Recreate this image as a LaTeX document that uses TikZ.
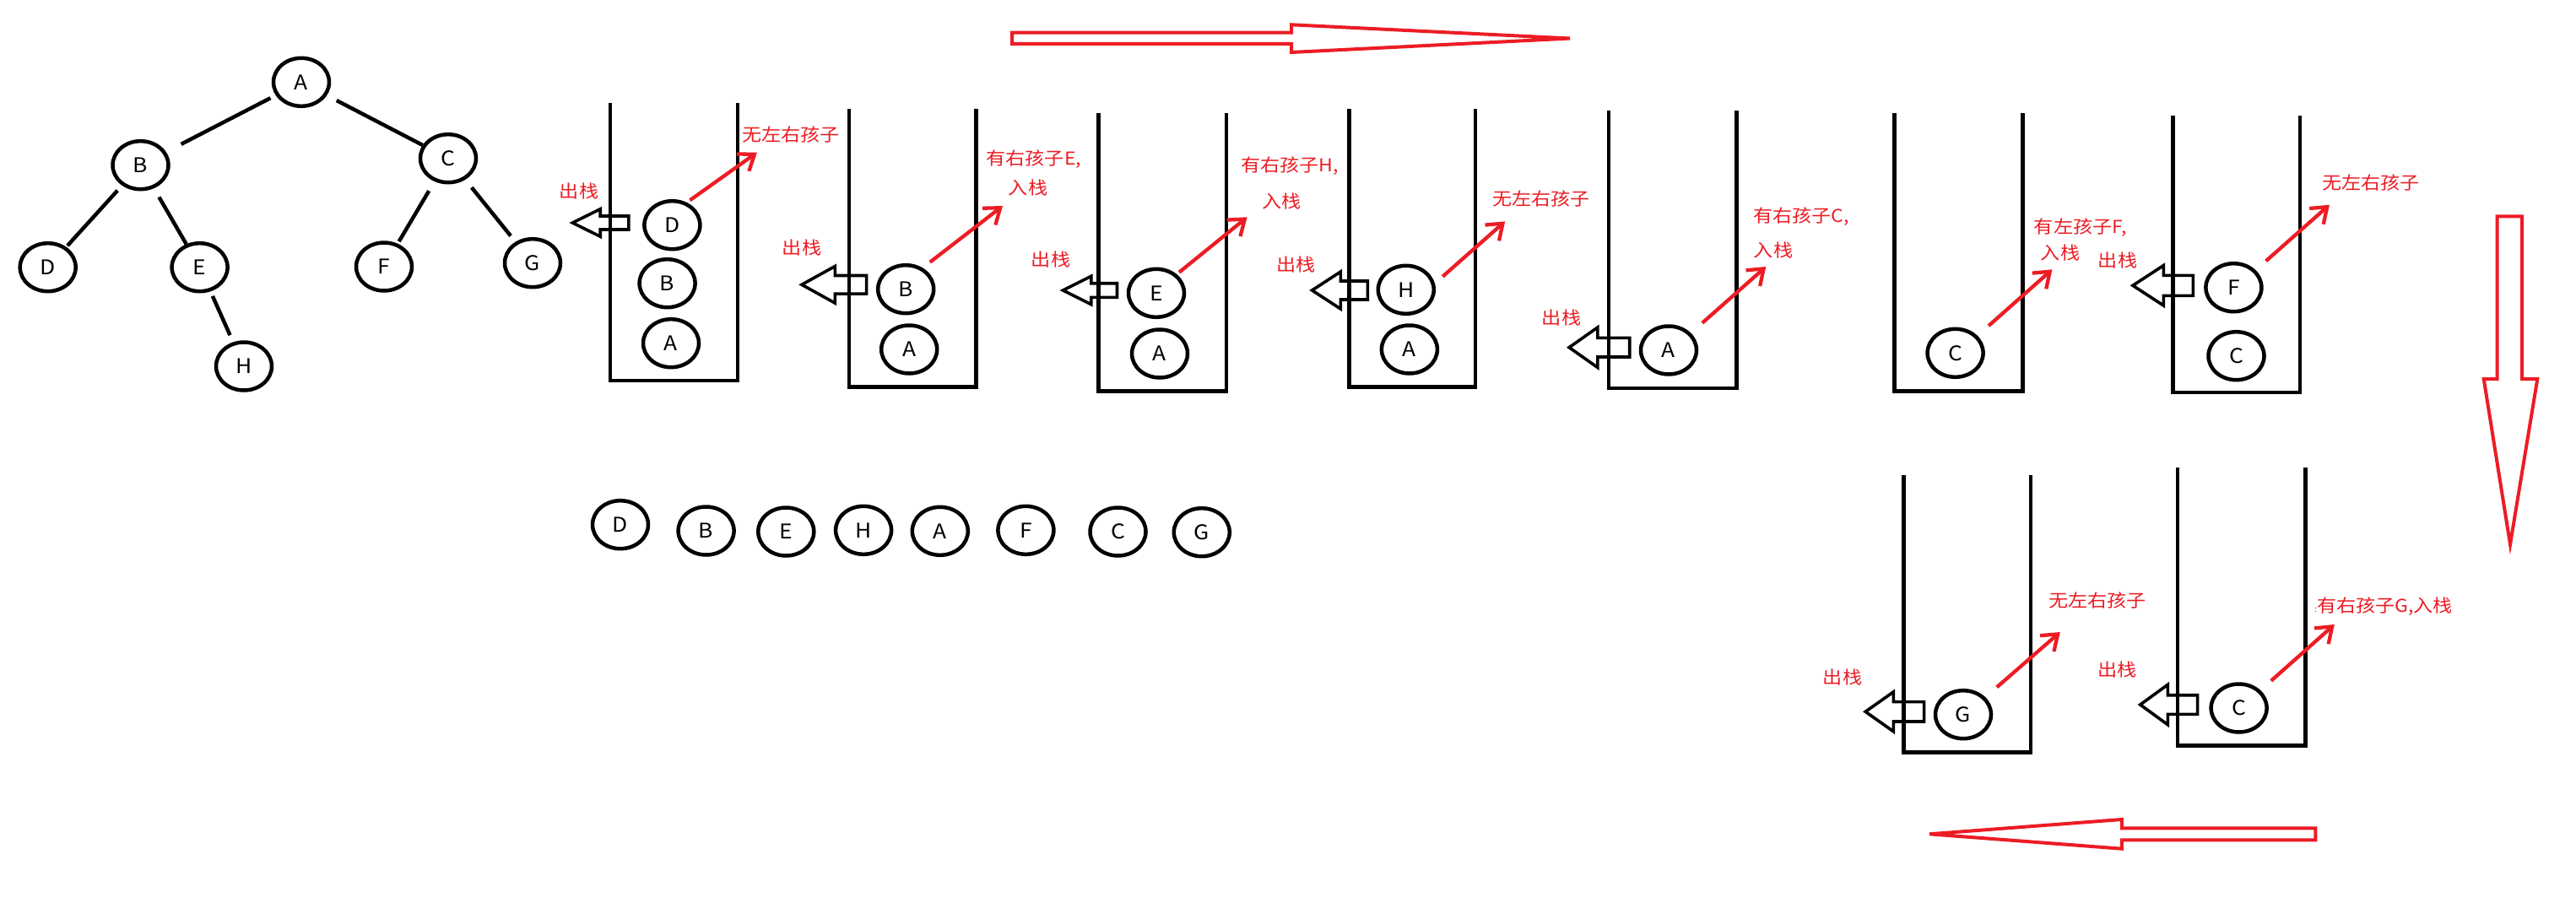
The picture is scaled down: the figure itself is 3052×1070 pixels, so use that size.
\documentclass[tikz,border=0pt]{standalone}
\usepackage{fontspec}
\setmainfont{Noto Sans CJK SC}[FakeStretch=1.1]
\usetikzlibrary{arrows.meta,shapes.geometric}
\definecolor{pred}{RGB}{237,28,36}
\newcommand\stackbox[4]{\draw[wall] (#1,#3) -- (#1,#4) -- (#2,#4) -- (#2,#3);}
\newcommand\hollowarr[6]{\draw[hollow] (#1+3,#2) -- (#3,#2-#4+2) -- (#3,#2-#6+2) -- (#5-2,#2-#6+2) -- (#5-2,#2+#6-2) -- (#3,#2+#6-2) -- (#3,#2+#4-2) -- cycle;}
\begin{document}
\begin{tikzpicture}[x=1pt,y=-1pt,
  ball/.style={draw, ellipse, line width=4.5pt, minimum width=66pt, minimum height=57pt, inner sep=0pt, font=\fontsize{24pt}{24pt}\selectfont},
  lbl/.style={text=pred, inner sep=0pt, font=\fontsize{21pt}{21pt}\selectfont},
  edge/.style={line width=4.5pt},
  wall/.style={line width=4.6pt, line join=miter},
  hollow/.style={line width=3.6pt, line join=miter},
  redarr/.style={draw=pred, line width=4.3pt, -{Straight Barb[length=17pt,width=25pt]}},
  bigred/.style={draw=pred, line width=4pt, line join=miter}]
\fill[white] (0,0) rectangle (3052,1070);
\useasboundingbox (0,0) rectangle (3052,1070);

% tree
\node[ball] (tA) at (357,97.3) {A};
\node[ball] (tB) at (166.5,195.7) {B};
\node[ball] (tC) at (531,187.7) {C};
\node[ball] (tD) at (56.7,316.7) {D};
\node[ball] (tE) at (236.6,316.7) {E};
\node[ball] (tF) at (455,316) {F};
\node[ball] (tG) at (631,311.7) {G};
\node[ball] (tH) at (289,434) {H};
\draw[edge, shorten <=7pt, shorten >=20pt] (tA) -- (tB);
\draw[edge, shorten <=13pt] (tA) -- (tC);
\draw[edge, shorten <=8pt, shorten >=2pt] (tB) -- (tD);
\draw[edge, shorten <=12pt] (tB) -- (tE);
\draw[edge, shorten <=13pt, shorten >=3pt] (tC) -- (tF);
\draw[edge, shorten <=12pt, shorten >=9pt] (tC) -- (tG);
\draw[edge, shorten <=6pt, shorten >=9pt] (tE) -- (tH);

% stacks
\stackbox{722.8}{874.1}{122.3}{451}
\stackbox{1005.8}{1156.7}{129.3}{458.3}
\stackbox{1301.5}{1453}{134.3}{463.3}
\stackbox{1598.5}{1748}{129.3}{458.3}
\stackbox{1906.1}{2057.7}{130.7}{460}
\stackbox{2244.5}{2396.3}{134.3}{463.3}
\stackbox{2574.3}{2724.8}{136.7}{465}
\stackbox{2255.6}{2406.1}{562.7}{891.7}
\stackbox{2580.1}{2731.6}{554.3}{883.3}

% stack contents
\node[ball] (s1D) at (796.4,266.7) {D};
\node[ball] (s1B) at (790.6,335.7) {B};
\node[ball] (s1A) at (795,406.7) {A};
\node[ball] (s2B) at (1073.2,342.7) {B};
\node[ball] (s2A) at (1077.2,414) {A};
\node[ball] (s3E) at (1370,347.3) {E};
\node[ball] (s3A) at (1374,419) {A};
\node[ball] (s4H) at (1665.8,343.3) {H};
\node[ball] (s4A) at (1669.9,414) {A};
\node[ball] (s5A) at (1977,415) {A};
\node[ball] (s6C) at (2316.6,418.3) {C};
\node[ball] (s7F) at (2646.4,340.7) {F};
\node[ball] (s7C) at (2649.5,421.7) {C};
\node[ball] (s8G) at (2326,846.7) {G};
\node[ball] (s9C) at (2652.6,839) {C};

% hollow pop arrows
\hollowarr{675.4}{264}{711.2}{18.3}{746.9}{10}
\hollowarr{946.9}{337.3}{989.3}{23.8}{1028.6}{12.8}
\hollowarr{1256.3}{344}{1292.9}{18.8}{1325.5}{10.3}
\hollowarr{1551.5}{344}{1588.3}{24}{1622.4}{13}
\hollowarr{1856.1}{411.7}{1892.9}{25.8}{1932.7}{13.3}
\hollowarr{2523.9}{338.3}{2563.4}{25.8}{2600.4}{14}
\hollowarr{2207.1}{843.3}{2243.4}{25.5}{2281.6}{13.7}
\hollowarr{2532.7}{835}{2568.4}{25.8}{2605.6}{13.3}

% pop labels
\node[lbl] (p1) at (686,226.7) {出栈};
\node[lbl] (p2) at (950,294) {出栈};
\node[lbl] (p3) at (1245,308) {出栈};
\node[lbl] (p4) at (1535.5,313.3) {出栈};
\node[lbl] (p5) at (1850,376.7) {出栈};
\node[lbl] (p7) at (2509,308.3) {出栈};
\node[lbl] (p8) at (2183,802.5) {出栈};
\node[lbl] (p9) at (2508.4,794) {出栈};

% red arrows
\coordinate (r1s) at (817.4,237.3); \coordinate (r1e) at (896.9,180.7);
\coordinate (r2s) at (1101.8,310.7); \coordinate (r2e) at (1188,244);
\coordinate (r3s) at (1397,322.7); \coordinate (r3e) at (1477.6,257.3);
\coordinate (r4s) at (1709.2,327.7); \coordinate (r4e) at (1783.2,262.3);
\coordinate (r5s) at (2016.8,382.7); \coordinate (r5e) at (2092.3,316);
\coordinate (r6s) at (2356.1,386); \coordinate (r6e) at (2431.4,319.3);
\coordinate (r7s) at (2684.6,309.3); \coordinate (r7e) at (2759.9,242.7);
\coordinate (r8s) at (2365.8,814.3); \coordinate (r8e) at (2440.8,749);
\coordinate (r9s) at (2690.8,806.7); \coordinate (r9e) at (2765.8,740);
\foreach \i in {1,...,9} {\draw[redarr] (r\i s) -- (r\i e);}

% red notes
\node[lbl] (n1) at (937,159.7) {无左右孩子};
\node[lbl] (n2a) at (1224.8,188.8) {有右孩子E,};
\node[lbl] (n2b) at (1218,223) {入栈};
\node[lbl] (n3a) at (1528,197) {有右孩子H,};
\node[lbl] (n3b) at (1518.6,238.3) {入栈};
\node[lbl] (n4) at (1826.3,235) {无左右孩子};
\node[lbl] (n5a) at (2133.9,256.3) {有右孩子C,};
\node[lbl] (n5b) at (2101,297) {入栈};
\node[lbl] (n6a) at (2464.8,269.3) {有左孩子F,};
\node[lbl] (n6b) at (2441,299.7) {入栈};
\node[lbl] (n7) at (2809,216.7) {无左右孩子};
\node[lbl] (n8) at (2485,711.7) {无左右孩子};
\node[lbl] (n9) at (2824,719) {{\fontsize{10pt}{10pt}\selectfont :}有右孩子G,入栈};

% output sequence
\node[ball] (oD) at (735,621.7) {D};
\node[ball] (oB) at (836.6,629) {B};
\node[ball] (oE) at (931.3,630) {E};
\node[ball] (oH) at (1023.1,628.3) {H};
\node[ball] (oA) at (1113.8,629.3) {A};
\node[ball] (oF) at (1215.4,628.3) {F};
\node[ball] (oC) at (1324.5,630) {C};
\node[ball] (oG) at (1423.8,630.7) {G};

% big direction arrows
\draw[bigred] (1199,38.7) -- (1530,38.7) -- (1530,29.3) -- (1860,45.5) -- (1530,62) -- (1530,52) -- (1199,52) -- cycle;
\draw[bigred] (2286,988.3) -- (2513.8,971) -- (2513.8,981.3) -- (2743.3,981.3) -- (2743.3,995.3) -- (2513.8,995.3) -- (2513.8,1005.7) -- cycle;
\draw[bigred] (2958.7,256.3) -- (2988,256.3) -- (2988,449) -- (3006.3,449) -- (2974,645) -- (2942.7,449) -- (2958.7,449) -- cycle;
\end{tikzpicture}
\end{document}
